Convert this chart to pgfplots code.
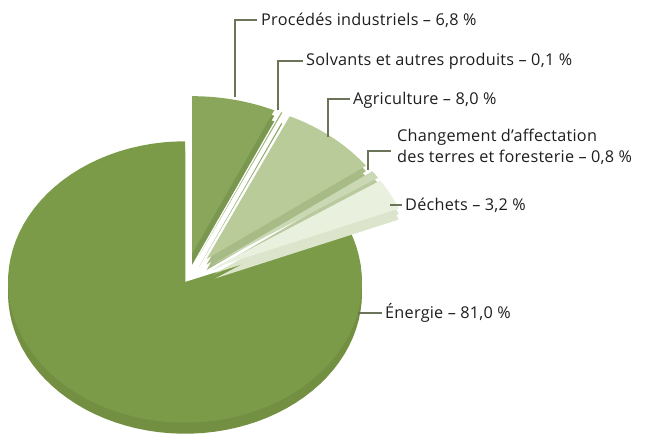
\documentclass[border=0pt]{standalone}
\usepackage{fontspec}
\setmainfont{Open Sans}[LetterSpace=1.5]
\usepackage{pgfplots}
\pgfplotsset{compat=1.18}
\definecolor{enTop}{HTML}{7B9B48}
\definecolor{enSide}{HTML}{728F42}
\definecolor{prTop}{HTML}{89A65B}
\definecolor{prSide}{HTML}{7A9750}
\definecolor{soTop}{HTML}{9DB577}
\definecolor{soSide}{HTML}{8EA768}
\definecolor{agTop}{HTML}{B8CB99}
\definecolor{agSide}{HTML}{A7BB86}
\definecolor{chTop}{HTML}{CBD8B4}
\definecolor{chSide}{HTML}{BACAA0}
\definecolor{deTop}{HTML}{EAF0DE}
\definecolor{deSide}{HTML}{DCE4CC}
\definecolor{leader}{HTML}{6B7358}
\definecolor{txt}{HTML}{1E1E1E}
\tikzset{lab/.style={anchor=west, font=\fontsize{16.3}{21}\selectfont, text=txt, inner sep=0pt}}
% shares in percent
\def\pEn{81.0}\def\pPr{6.8}\def\pSo{0.1}\def\pAg{8.0}\def\pCh{0.8}\def\pDe{3.2}
\newcommand{\slice}[6]{%
 \addplot[wedge,#6] ({#1 + wrad(\s,#3)*cos(wang(\s,#4,#5))}, {#2 - 0.795*wrad(\s,#3)*sin(wang(\s,#4,#5))});}
\begin{document}
\begin{tikzpicture}
\pgfmathsetmacro\aPr{90-3.6*\pPr}
\pgfmathsetmacro\aSo{\aPr-3.6*\pSo}
\pgfmathsetmacro\aAg{\aSo-3.6*\pAg}
\pgfmathsetmacro\aCh{\aAg-3.6*\pCh}
\pgfmathsetmacro\aDe{\aCh-3.6*\pDe}
\pgfmathsetmacro\aEn{90+3.6*\pEn}
\def\d{34}\def\R{198}\def\th{11}
% exploded centres
\pgfmathsetmacro\mPr{(90+\aPr)/2}
\pgfmathsetmacro\xPr{185+\d*cos(\mPr)}\pgfmathsetmacro\yPr{280-0.795*\d*sin(\mPr)}
\pgfmathsetmacro\mSo{(\aPr+\aSo)/2}
\pgfmathsetmacro\xSo{185+\d*cos(\mSo)}\pgfmathsetmacro\ySo{280-0.795*\d*sin(\mSo)}
\pgfmathsetmacro\mAg{(\aSo+\aAg)/2}
\pgfmathsetmacro\xAg{185+\d*cos(\mAg)}\pgfmathsetmacro\yAg{280-0.795*\d*sin(\mAg)}
\pgfmathsetmacro\mCh{(\aAg+\aCh)/2}
\pgfmathsetmacro\xCh{185+\d*cos(\mCh)}\pgfmathsetmacro\yCh{280-0.795*\d*sin(\mCh)}
\pgfmathsetmacro\mDe{(\aCh+\aDe)/2}
\pgfmathsetmacro\xDe{185+\d*cos(\mDe)}\pgfmathsetmacro\yDe{280-0.795*\d*sin(\mDe)}
\begin{axis}[scale only axis, width=650bp, height=438bp,
  xmin=0, xmax=650, ymin=0, ymax=438, y dir=reverse,
  hide axis, clip=false,
  declare function={
    wang(\s,\a,\b)=\a+(\b-\a)*min(max((\s-1)/80,0),1);
    wrad(\s,\r)=ifthenelse(or(\s<0.5,\s>81.5),0,\r);
  },
  wedge/.style={draw=none, domain=0:82, samples=83, variable=\s, mark=none},
  ]
\addplot[draw=none, mark=none] coordinates {(0,0) (650,438)};
% Energie
\slice{185}{282+\th}{177}{90}{\aEn}{fill=enSide}
\slice{185}{282+\th/2}{177}{90}{\aEn}{fill=enSide}
\slice{185}{282}{177}{90}{\aEn}{fill=enTop}
% Procedes industriels
\slice{\xPr}{\yPr+\th}{\R}{\aPr}{90}{fill=prSide}
\slice{\xPr}{\yPr+\th/2}{\R}{\aPr}{90}{fill=prSide}
\slice{\xPr}{\yPr}{\R}{\aPr}{90}{fill=prTop}
% Solvants
\slice{\xSo}{\ySo+\th}{\R}{\aSo}{\aPr}{fill=soSide}
\slice{\xSo}{\ySo}{\R}{\aSo}{\aPr}{fill=soTop}
% Agriculture
\slice{\xAg}{\yAg+\th}{\R}{\aAg}{\aSo}{fill=agSide}
\slice{\xAg}{\yAg+\th/2}{\R}{\aAg}{\aSo}{fill=agSide}
\slice{\xAg}{\yAg}{\R}{\aAg}{\aSo}{fill=agTop}
% Changement d'affectation
\slice{\xCh}{\yCh+\th}{\R}{\aCh}{\aAg}{fill=chSide}
\slice{\xCh}{\yCh+\th/2}{\R}{\aCh}{\aAg}{fill=chSide}
\slice{\xCh}{\yCh}{\R}{\aCh}{\aAg}{fill=chTop}
% Dechets
\slice{\xDe}{\yDe+\th}{\R}{\aDe}{\aCh}{fill=deSide}
\slice{\xDe}{\yDe+\th/2}{\R}{\aDe}{\aCh}{fill=deSide}
\slice{\xDe}{\yDe}{\R}{\aDe}{\aCh}{fill=deTop}
% leader lines
\addplot[leader, line width=1.3pt, mark=none] coordinates {(235,97) (235,20) (257,20)};
\addplot[leader, line width=1.3pt, mark=none] coordinates {(278,110) (278,61) (303,61)};
\addplot[leader, line width=1.3pt, mark=none] coordinates {(328,137) (328,99) (350,99)};
\addplot[leader, line width=1.3pt, mark=none] coordinates {(368,170) (368,151) (391,151)};
\addplot[leader, line width=1.3pt, mark=none] coordinates {(390,205) (402,205)};
\addplot[leader, line width=1.3pt, mark=none] coordinates {(358,313) (382,313)};
% labels
\node[lab] at (axis cs:261,20) {Procédés industriels – 6,8 \%};
\node[lab] at (axis cs:306,61) {Solvants et autres produits – 0,1 \%};
\node[lab] at (axis cs:353,100) {Agriculture – 8,0 \%};
\node[lab, align=left] at (axis cs:397,147) {Changement d’affectation\\des terres et foresterie – 0,8 \%};
\node[lab] at (axis cs:405,205) {Déchets – 3,2 \%};
\node[lab] at (axis cs:385,313) {Énergie – 81,0 \%};
\end{axis}
\end{tikzpicture}
\end{document}
